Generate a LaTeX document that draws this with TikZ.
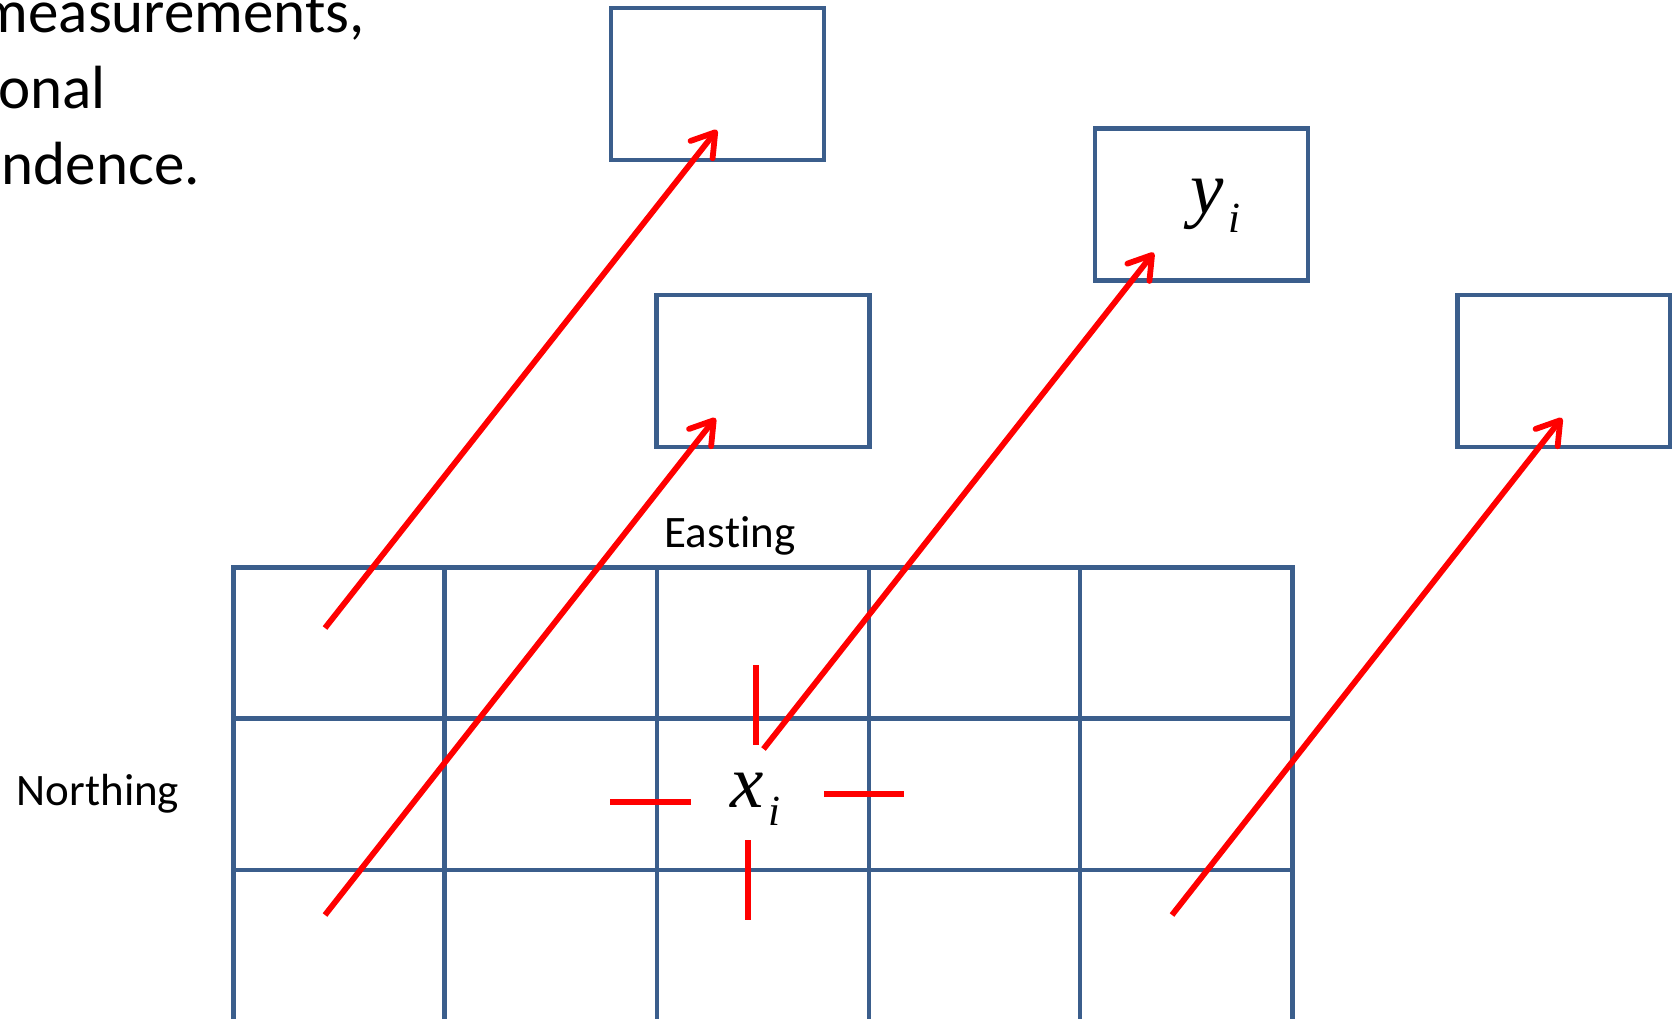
\documentclass[tikz,border=0pt]{standalone}
\usepackage{fontspec}
\setmainfont{Carlito}[RawFeature={-liga;-dlig;-clig}]
\newfontfamily\tms{Liberation Serif}
\usetikzlibrary{arrows.meta}
\definecolor{gridblue}{HTML}{3B5E8C}
\definecolor{arrred}{HTML}{FF0000}
\begin{document}
\begin{tikzpicture}[x=1pt,y=-1pt,
  gridline/.style={draw=gridblue,line width=4.6pt},
  obsbox/.style={draw=gridblue,line width=4.6pt,minimum width=213pt,minimum height=152pt,inner sep=0pt},
  link/.style={draw=arrred,line width=5.8pt,-{Straight Barb[length=22pt,width=28pt,round]}},
  tickmark/.style={draw=arrred,line width=5.2pt},
  bigtxt/.style={inner sep=0pt,font=\fontsize{61}{72}\selectfont},
  axtxt/.style={inner sep=0pt,font=\fontsize{45}{54}\selectfont},
  mathtxt/.style={inner sep=0pt,font=\tms\itshape\fontsize{75}{75}\selectfont}]
\useasboundingbox (0,0) rectangle (1672,1019);
\clip (0,0) rectangle (1672,1019);
% top-left text (clipped at the left edge)
\node[bigtxt,anchor=base east] (t1) at (365,33) {measurements,};
\node[bigtxt,anchor=base east] (t2) at (106,109) {onal};
\node[bigtxt,anchor=base east] (t3) at (200,185) {ndence.};
% grid
\draw[gridline] (233.5,1040) -- (233.5,567.3) -- (1292.4,567.3) -- (1292.4,1040);
\foreach \gx in {444.7,656.9,869,1080} \draw[gridline] (\gx,567.3) -- (\gx,1040);
\foreach \gy in {718.7,870} \draw[gridline] (233.5,\gy) -- (1292.4,\gy);
\node[axtxt,anchor=base] (east) at (730,547) {Eas\kern0pt ting};
\node[axtxt,anchor=base] (north) at (98,805) {Northing};
% observation boxes
\node[obsbox] (bA) at (717.5,84) {};
\node[obsbox] (bB) at (763,371) {};
\node[obsbox] (bC) at (1201.5,204.5) {};
\node[obsbox] (bD) at (1564,371) {};
\node[mathtxt,anchor=base west] (yi) at (1190,214) {y\kern5pt\raisebox{-18pt}{\fontsize{43}{43}\selectfont i}};
\node[mathtxt,anchor=base west] (xi) at (730,807) {x\kern5pt\raisebox{-18pt}{\fontsize{43}{43}\selectfont i}};
% arrow ends
\coordinate (s1) at (325,628);  \coordinate (e1) at (717,130);
\coordinate (s2) at (325,915);  \coordinate (e2) at (715.5,418);
\coordinate (s3) at (763.5,749); \coordinate (e3) at (1153.8,252.7);
\coordinate (s4) at (1172,915); \coordinate (e4) at (1562,418);
\draw[link] (s1) -- (e1);
\draw[link] (s2) -- (e2);
\draw[link] (s3) -- (e3);
\draw[link] (s4) -- (e4);
% ticks around x_i
\coordinate (k1a) at (756,665); \coordinate (k1b) at (756,745);
\coordinate (k2a) at (748,840); \coordinate (k2b) at (748,920);
\coordinate (k3a) at (610,802); \coordinate (k3b) at (691,802);
\coordinate (k4a) at (824,794); \coordinate (k4b) at (904,794);
\draw[tickmark] (k1a) -- (k1b);
\draw[tickmark] (k2a) -- (k2b);
\draw[tickmark] (k3a) -- (k3b);
\draw[tickmark] (k4a) -- (k4b);
\end{tikzpicture}
\end{document}
